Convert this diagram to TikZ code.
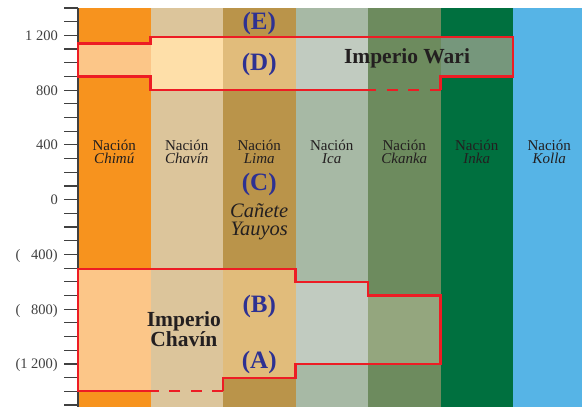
\documentclass[tikz,border=0pt]{standalone}
\usepackage{fontspec}
\setmainfont{Liberation Serif}

\definecolor{chimu}{RGB}{247,147,30}
\definecolor{chimuclaro}{RGB}{252,198,136}
\definecolor{chavin}{RGB}{220,197,155}
\definecolor{chavinclaro}{RGB}{254,223,169}
\definecolor{lima}{RGB}{186,148,74}
\definecolor{limaclaro}{RGB}{225,188,123}
\definecolor{ica}{RGB}{167,185,165}
\definecolor{icaclaro}{RGB}{193,203,192}
\definecolor{ckanka}{RGB}{109,139,94}
\definecolor{ckankaclaro}{RGB}{148,166,126}
\definecolor{inka}{RGB}{0,112,63}
\definecolor{inkaclaro}{RGB}{118,151,124}
\definecolor{kolla}{RGB}{86,180,230}
\definecolor{frontera}{RGB}{237,28,36}
\definecolor{letra}{RGB}{46,49,146}
\definecolor{texto}{RGB}{35,31,32}
\definecolor{eje}{RGB}{64,64,64}

\tikzstyle{every node}=[inner sep=0pt]
\tikzstyle{borde}=[draw=frontera, line width=2.2pt, line join=miter]
\tikzstyle{tramo}=[borde, dash pattern=on 10.75pt off 10.75pt]
\tikzstyle{marca}=[draw=eje, line width=1.2pt]
\tikzstyle{fecha}=[anchor=base east, text=eje, font=\fontsize{14.5}{14.5}\selectfont]
\tikzstyle{nacion}=[anchor=base, text=texto, font=\fontsize{15}{15}\selectfont]
\tikzstyle{pueblo}=[anchor=base, text=texto, font=\fontsize{15}{15}\selectfont\itshape]
\tikzstyle{etapa}=[text=letra, font=\fontsize{25}{25}\selectfont\bfseries]
\tikzstyle{imperio}=[anchor=base, text=texto, font=\fontsize{21.5}{21.5}\selectfont\bfseries]
\tikzstyle{zona}=[anchor=base, text=texto, font=\fontsize{20.5}{20.5}\selectfont\itshape]

\begin{document}
\begin{tikzpicture}[x=72.5pt, y=0.1369pt]
            \useasboundingbox (-1.07586,-1514.2) rectangle (6.95172,1458.4);

            % columnas de las naciones
            \fill[chimu]  (0,1400) rectangle (1,-1514.2);
            \fill[chavin] (1,1400) rectangle (2,-1514.2);
            \fill[lima]   (2,1400) rectangle (3,-1514.2);
            \fill[ica]    (3,1400) rectangle (4,-1514.2);
            \fill[ckanka] (4,1400) rectangle (5,-1514.2);
            \fill[inka]   (5,1400) rectangle (6,-1514.2);
            \fill[kolla]  (6,1400) rectangle (6.95172,-1514.2);

            % Imperio Wari
            \fill[chimuclaro]  (0,1140) rectangle (1,900);
            \fill[chavinclaro] (1,1190) rectangle (2,800);
            \fill[limaclaro]   (2,1190) rectangle (3,800);
            \fill[icaclaro]    (3,1190) rectangle (4,800);
            \fill[inkaclaro]   (5,1190) rectangle (6,900);

            % Imperio Chavin
            \fill[chimuclaro]  (0,-505) rectangle (1,-1400);
            \fill[limaclaro]   (2,-505) rectangle (3,-1300);
            \fill[icaclaro]    (3,-600) rectangle (4,-1200);
            \fill[ckankaclaro] (4,-700) rectangle (5,-1200);

            % eje de los anos
            \draw[eje, line width=1.7pt] (0,1400) -- (0,-1514.2);
            \foreach \yr in {-1500,-1400,...,1400}
                \draw[marca] (-0.193,\yr) -- (0,\yr);
            \foreach \yr/\txt in {1200/1 200, 800/800, 400/400, 0/0,
                    -400/(\phantom{1 }400), -800/(\phantom{1 }800), -1200/(1 200)}
                \node[fecha] (fecha\yr) at (-0.276,\yr-36) {\txt};

            % fronteras
            \draw[borde] (5,800) -- (5,900) -- (6,900) -- (6,1190) -- (1,1190)
                -- (1,1140) -- (0,1140) -- (0,900) -- (1,900) -- (1,800) -- (4,800);
            \draw[tramo] (5,800) -- (4,800);
            \draw[borde] (2,-1400) -- (2,-1300) -- (3,-1300) -- (3,-1200) -- (5,-1200)
                -- (5,-700) -- (4,-700) -- (4,-600) -- (3,-600) -- (3,-505)
                -- (0,-505) -- (0,-1400) -- (1,-1400);
            \draw[tramo] (2,-1400) -- (1,-1400);

            % naciones
            \node[nacion] (nchimu)  at (0.5,362) {Nación};
            \node[pueblo] (pchimu)  at (0.5,261) {Chimú};
            \node[nacion] (nchavin) at (1.5,362) {Nación};
            \node[pueblo] (pchavin) at (1.5,261) {Chavín};
            \node[nacion] (nlima)   at (2.5,362) {Nación};
            \node[pueblo] (plima)   at (2.5,261) {Lima};
            \node[nacion] (nica)    at (3.5,362) {Nación};
            \node[pueblo] (pica)    at (3.5,261) {Ica};
            \node[nacion] (nckanka) at (4.5,362) {Nación};
            \node[pueblo] (pckanka) at (4.5,261) {Ckanka};
            \node[nacion] (ninka)   at (5.5,362) {Nación};
            \node[pueblo] (pinka)   at (5.5,261) {Inka};
            \node[nacion] (nkolla)  at (6.5,362) {Nación};
            \node[pueblo] (pkolla)  at (6.5,261) {Kolla};

            % etapas
            \node[etapa] (etapaE) at (2.5,1288) {(E)};
            \node[etapa] (etapaD) at (2.5,986) {(D)};
            \node[etapa] (etapaC) at (2.5,114) {(C)};
            \node[etapa] (etapaB) at (2.5,-784) {(B)};
            \node[etapa] (etapaA) at (2.5,-1190) {(A)};

            \node[zona] (canete) at (2.5,-129) {Cañete};
            \node[zona] (yauyos) at (2.5,-265) {Yauyos};

            \node[imperio] (wari) at (4.538,991) {Imperio Wari};
            \node[imperio] (imperio) at (1.46,-923) {Imperio};
            \node[imperio] (chavin) at (1.46,-1074) {Chavín};
        \end{tikzpicture}
\end{document}
